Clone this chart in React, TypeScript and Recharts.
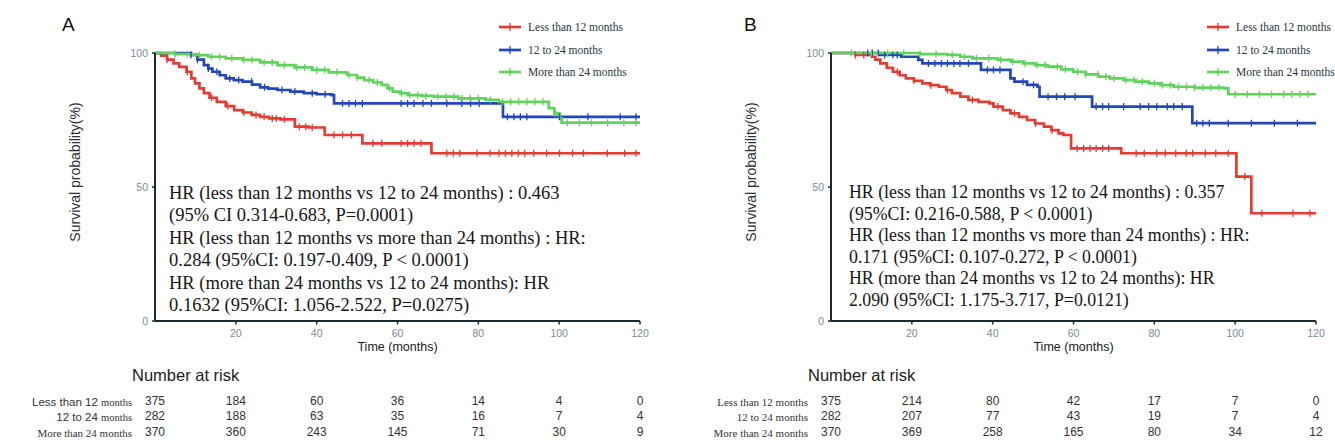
import React from "react"
import { ComposedChart, Line, XAxis, YAxis, Label } from "recharts"

type Pt = [number, number]

const groupNames = ["Less than 12 months", "12 to 24 months", "More than 24 months"]
const colors = ["#e43c30", "#2447b7", "#5fd35a"]
const yTicks = [0, 50, 100]
const riskTimes = [0, 20, 40, 60, 80, 100, 120]

// panel A - steps [time, survival %]
const aLess12: Pt[] = [
	[0, 100], [1.5, 99], [3, 97.5], [4.6, 96.1], [6, 94.8], [7.8, 93], [9, 90.5], [9.9, 88.7], [11, 86.8],
	[12.1, 85], [13.5, 83.3], [15.3, 81.8], [17.5, 80.2], [19.6, 78.7], [21.7, 77.8], [23.9, 76.9], [26, 76.2],
	[28.2, 75.6], [31, 75.2], [34.6, 72.5], [38, 72.2], [42, 69.4], [51.3, 66.3], [68.4, 62.6], [120, 62.6],
]
const a12to24: Pt[] = [
	[0, 100], [8.9, 99.3], [10.5, 97.5], [12.1, 95.5], [13.2, 94.2], [14.2, 93], [16, 91.7], [17.5, 90.5],
	[19.5, 89.9], [21.7, 89.3], [24, 88.2], [26, 87.2], [28, 86.7], [30.3, 86.2], [33.5, 85.6], [36.8, 85],
	[40, 84.6], [43.7, 84.3], [44.3, 81.2], [86.1, 76.2], [120, 76.2],
]
const aMore24: Pt[] = [
	[0, 100], [5, 99.6], [9, 99.2], [13.2, 98.6], [17.5, 98], [21.7, 97.4], [26, 96.5], [30.3, 95.5],
	[34.5, 94.6], [38.9, 93.7], [43, 92.8], [47.5, 91.8], [50, 90.8], [51.8, 89.9], [54, 89], [56.1, 88.1],
	[57.5, 86.8], [58.8, 85.6], [60.5, 85], [62.5, 84.3], [66, 84], [69, 83.7], [75, 83.1], [81.8, 82.5],
	[85.1, 81.8], [97.4, 79.4], [98.8, 77.5], [100.1, 75.6], [100.6, 74], [120, 74],
]
const aLess12Cens = [3, 8, 14, 18, 22, 25, 27, 29, 30, 32, 35.7, 37.3, 38.9, 44.3, 46.4, 48.6, 53.9, 56.1, 60.9,
	62.5, 64.1, 65.8, 72.2, 73.8, 75.4, 79.7, 82.9, 85.1, 86.7, 88.3, 89.9, 91.5, 93.7, 96.9, 100.1, 103.3, 106,
	111.9, 116.2, 119]
const a12to24Cens = [8.9, 10.5, 13.2, 15.3, 18.5, 20.7, 23.9, 27.1, 31.4, 34.6, 38.9, 42.1, 46.4, 48, 49.6, 51.3,
	60.9, 62.5, 64.1, 66.3, 68.4, 72.2, 75.9, 78.1, 80.2, 87.2, 88.8, 90.4, 92, 100.1, 107.1, 115.1, 119]
const aMore24Cens = [5, 8, 11, 14, 16, 19, 22, 24, 27, 29, 32, 35, 37, 40, 42, 45, 48, 50, 53, 55, 58, 61, 63, 65,
	67, 70, 72, 74, 76, 78, 80, 83, 86, 88, 90, 92, 94, 96, 99, 102, 105, 108, 112, 116, 119]
const aRiskLess12 = [375, 184, 60, 36, 14, 4, 0]
const aRisk12to24 = [282, 188, 63, 35, 16, 7, 4]
const aRiskMore24 = [370, 360, 243, 145, 71, 30, 9]
const aHr = [
	"HR (less than 12 months vs 12 to 24 months) : 0.463",
	"(95% CI 0.314-0.683, P=0.0001)",
	"HR (less than 12 months vs more than 24 months) : HR:",
	"0.284 (95%CI: 0.197-0.409, P < 0.0001)",
	"HR (more than 24 months vs 12 to 24 months): HR",
	"0.1632 (95%CI: 1.056-2.522, P=0.0275)",
]

// panel B
const bLess12: Pt[] = [
	[0, 100], [6, 99.3], [10.1, 98.6], [11, 97.5], [12.2, 96.1], [13.8, 94.5], [15.3, 93], [17, 91.7], [18.5, 90.5],
	[20.5, 89.6], [22.6, 88.7], [24.5, 88], [26.7, 87.4], [28.5, 86.2], [29.9, 85], [32, 83.7], [34, 82.5],
	[36.5, 81.8], [39.2, 81.2], [40.2, 80], [42.5, 78.7], [44.4, 77.5], [46.5, 76.2], [48.5, 75], [50.5, 73.7],
	[52.7, 72.5], [54.5, 71.2], [56.3, 70], [57.5, 69.4], [59.4, 64.4], [71.8, 62.6], [100.3, 53.9], [104, 40.2],
	[120, 40.2],
]
const b12to24: Pt[] = [
	[0, 100], [12.2, 99.3], [17.4, 98.6], [21.6, 97.4], [22.6, 96.1], [37.1, 93.7], [44.4, 90.5], [45.4, 89.3],
	[48.5, 88.1], [51.1, 87.4], [51.6, 83.7], [64.6, 80], [89.4, 73.8], [120, 73.8],
]
const bMore24: Pt[] = [
	[0, 100], [22, 99.6], [28.8, 99.3], [32, 98.6], [35, 98], [41.3, 97.4], [44.5, 96.8], [47.5, 96.1], [50.5, 95.5],
	[53.7, 94.9], [57, 93.9], [59.9, 93], [63, 92], [66.1, 91.2], [69, 90.5], [72.4, 89.9], [75.5, 89.3],
	[78.6, 88.7], [81.5, 88], [84.8, 87.4], [90, 87.1], [97.2, 86.8], [98.3, 84.6], [120, 84.6],
]
const bLess12Cens = [6, 8.1, 16.4, 20.5, 24.7, 28.8, 35, 41.3, 45.4, 50.6, 54.7, 60.9, 62.5, 64.1, 65.6, 67.2, 68.7,
	75.5, 77.5, 80.6, 82.7, 85.3, 87.9, 89.5, 92.6, 95.2, 98.3, 102.4, 106.6, 114.3, 118.5]
const b12to24Cens = [9.1, 10.2, 11.7, 13.3, 15.3, 16.4, 24.1, 25.7, 27.3, 28.8, 30.4, 31.9, 34, 38.7, 40.2, 41.8,
	47.5, 50.1, 53.7, 55.8, 57.8, 60.4, 65.6, 67.2, 68.7, 72.4, 76.5, 78.6, 80.6, 83.2, 84.8, 86.9, 90.5, 92, 93.6,
	98.3, 104, 109.7, 115.4]
const bMore24Cens = [5, 10, 14, 18, 22, 26, 30, 33, 36, 39, 42, 45, 48, 51, 53, 56, 58, 61, 63, 66, 68, 70, 73, 75,
	77, 80, 82, 84, 86, 88, 90, 92, 94, 96, 100, 103, 106, 109, 112, 114, 116, 118]
const bRiskLess12 = [375, 214, 80, 42, 17, 7, 0]
const bRisk12to24 = [282, 207, 77, 43, 19, 7, 4]
const bRiskMore24 = [370, 369, 258, 165, 80, 34, 12]
const bHr = [
	"HR (less than 12 months vs 12 to 24 months) : 0.357",
	"(95%CI: 0.216-0.588, P < 0.0001)",
	"HR (less than 12 months vs more than 24 months) : HR:",
	"0.171 (95%CI: 0.107-0.272, P < 0.0001)",
	"HR (more than 24 months vs 12 to 24 months): HR",
	"2.090 (95%CI: 1.175-3.717, P=0.0121)",
]

const SANS = "'Liberation Sans', Arial, sans-serif"
const SERIF = "'Liberation Serif', 'Times New Roman', serif"
const AXIS = "#1c2a30"
const TICK = "#7b8a97"

const valueAt = (steps: Pt[], t: number) => {
	let v = steps[0][1]
	for (const [st, sv] of steps) {
		if (st <= t) v = sv
	}
	return v
}

const toRows = (steps: Pt[]) => steps.map(([t, s]) => ({ t, s }))
const toCens = (steps: Pt[], times: number[]) => times.map((t) => ({ t, s: valueAt(steps, t) }))

const censorDot = (color: string) => (p: any) => (
	<line key={`c${p.index}`} x1={p.cx} x2={p.cx} y1={p.cy - 3.5} y2={p.cy + 3.5} stroke={color} strokeWidth={1.3} />
)

// x tick: tick mark + label, and the number-at-risk column under it
const timeTick = (risk: number[][]) => (p: any) => {
	const v = p.payload.value
	const i = riskTimes.indexOf(v)
	return (
		<g key={`t${v}`}>
			{v > 0 && <line x1={p.x} x2={p.x} y1={p.y} y2={p.y + 3.5} stroke={AXIS} strokeWidth={1.5} />}
			{v > 0 && (
				<text x={p.x} y={p.y + 11.5} textAnchor="middle" dominantBaseline="central" fontSize={10.5} fill={TICK} fontFamily={SANS}>
					{v}
				</text>
			)}
			{risk.map((row, r) => (
				<text key={r} x={p.x} y={p.y + 79.5 + r * 15.5} textAnchor="middle" dominantBaseline="central" fontSize={12} fill="#333" fontFamily={SANS}>
					{row[i]}
				</text>
			))}
		</g>
	)
}

interface PanelProps {
	left: number
	letter: string
	letterX: number
	steps: Pt[][]
	cens: number[][]
	risk: number[][]
	hr: string[]
	hrX: number
	hrTop: number
	hrSize: number
	hrLine: number
	legendX: number
	mixedLabels?: boolean
}

const Panel: React.FC<PanelProps> = ({ left, letter, letterX, steps, cens, risk, hr, hrX, hrTop, hrSize, hrLine, legendX, mixedLabels }) => {
	const rowLabel = (i: number) => {
		if (mixedLabels && i < 2) {
			const head = i === 0 ? "Less than 12 " : "12 to 24 "
			return (
				<>
					<span style={{ fontFamily: SANS, fontSize: 11.5 }}>{head}</span>
					<span style={{ fontFamily: SERIF, fontSize: 10.5 }}>months</span>
				</>
			)
		}
		return <span style={{ fontFamily: SERIF, fontSize: 11 }}>{groupNames[i]}</span>
	}
	return (
		<div style={{ position: "absolute", left, top: 0, width: 680, height: 447 }}>
			<ComposedChart width={680} height={447} margin={{ top: 53, right: 40, left: 115, bottom: 0 }}>
				<XAxis
					dataKey="t"
					type="number"
					domain={[0, 120]}
					ticks={riskTimes}
					interval={0}
					height={126}
					tickSize={0}
					tickMargin={0}
					axisLine={{ stroke: AXIS, strokeWidth: 2 }}
					tickLine={false}
					tick={timeTick(risk)}
				>
					<Label value="Time (months)" position="insideTop" offset={21} style={{ fontSize: 12.5, fill: "#1a1a1a", fontFamily: SANS }} />
				</XAxis>
				<YAxis
					type="number"
					domain={[0, 100]}
					ticks={yTicks}
					width={40}
					tickSize={3}
					tickMargin={4}
					axisLine={{ stroke: AXIS, strokeWidth: 2 }}
					tickLine={{ stroke: AXIS, strokeWidth: 1.5 }}
					tick={{ fontSize: 10.5, fill: TICK, fontFamily: SANS }}
				/>
				{steps.map((s, i) => (
					<Line
						key={`l${i}`}
						data={toRows(s)}
						dataKey="s"
						type="stepAfter"
						stroke={colors[i]}
						strokeWidth={2.7}
						dot={false}
						activeDot={false}
						isAnimationActive={false}
					/>
				))}
				{steps.map((s, i) => (
					<Line
						key={`c${i}`}
						data={toCens(s, cens[i])}
						dataKey="s"
						stroke="none"
						dot={censorDot(colors[i])}
						activeDot={false}
						isAnimationActive={false}
					/>
				))}
			</ComposedChart>

			<div style={{ position: "absolute", left: letterX, top: 14, fontFamily: SANS, fontSize: 19, color: "#111" }}>{letter}</div>

			{groupNames.map((g, i) => (
				<div key={g} style={{ position: "absolute", left: legendX, top: 19 + i * 22.5, height: 16, display: "flex", alignItems: "center" }}>
					<svg width={22} height={10} style={{ marginRight: 7 }}>
						<line x1={0} x2={22} y1={5} y2={5} stroke={colors[i]} strokeWidth={2.7} />
						<line x1={11} x2={11} y1={1} y2={9} stroke={colors[i]} strokeWidth={1.3} />
					</svg>
					<span style={{ fontFamily: SERIF, fontSize: 11.5, color: "#2a3540", whiteSpace: "nowrap" }}>{g}</span>
				</div>
			))}

			<div
				style={{
					position: "absolute",
					left: 75,
					top: 172,
					transform: "translate(-50%, -50%) rotate(-90deg)",
					whiteSpace: "nowrap",
					fontFamily: SANS,
					fontSize: 14,
					color: "#2a3035",
				}}
			>
				Survival probability(%)
			</div>

			<div style={{ position: "absolute", left: hrX, top: hrTop, fontFamily: SERIF, fontSize: hrSize, lineHeight: `${hrLine}px`, color: "#161616", whiteSpace: "nowrap" }}>
				{hr.map((l) => (
					<div key={l}>{l}</div>
				))}
			</div>

			<div style={{ position: "absolute", left: 132, top: 366, fontFamily: SANS, fontSize: 16.5, color: "#222", whiteSpace: "nowrap" }}>Number at risk</div>

			{groupNames.map((g, i) => (
				<div key={`rl${g}`} style={{ position: "absolute", left: 0, width: 132, top: 392.5 + i * 15.5, height: 16, lineHeight: "16px", textAlign: "right", color: "#333", whiteSpace: "nowrap" }}>
					{rowLabel(i)}
				</div>
			))}
		</div>
	)
}

const App: React.FC = () => {
	return (
		<div style={{ position: "absolute", left: 0, top: 0, width: 1335, height: 447, overflow: "hidden", background: "#fff" }}>
			<Panel
				left={0}
				letter="A"
				letterX={62}
				steps={[aLess12, a12to24, aMore24]}
				cens={[aLess12Cens, a12to24Cens, aMore24Cens]}
				risk={[aRiskLess12, aRisk12to24, aRiskMore24]}
				hr={aHr}
				hrX={169}
				hrTop={181.5}
				hrSize={18.5}
				hrLine={22.5}
				legendX={499}
				mixedLabels
			/>
			<Panel
				left={676}
				letter="B"
				letterX={68}
				steps={[bLess12, b12to24, bMore24]}
				cens={[bLess12Cens, b12to24Cens, bMore24Cens]}
				risk={[bRiskLess12, bRisk12to24, bRiskMore24]}
				hr={bHr}
				hrX={173}
				hrTop={182}
				hrSize={17.8}
				hrLine={21.5}
				legendX={531}
			/>
		</div>
	)
}

export default App
